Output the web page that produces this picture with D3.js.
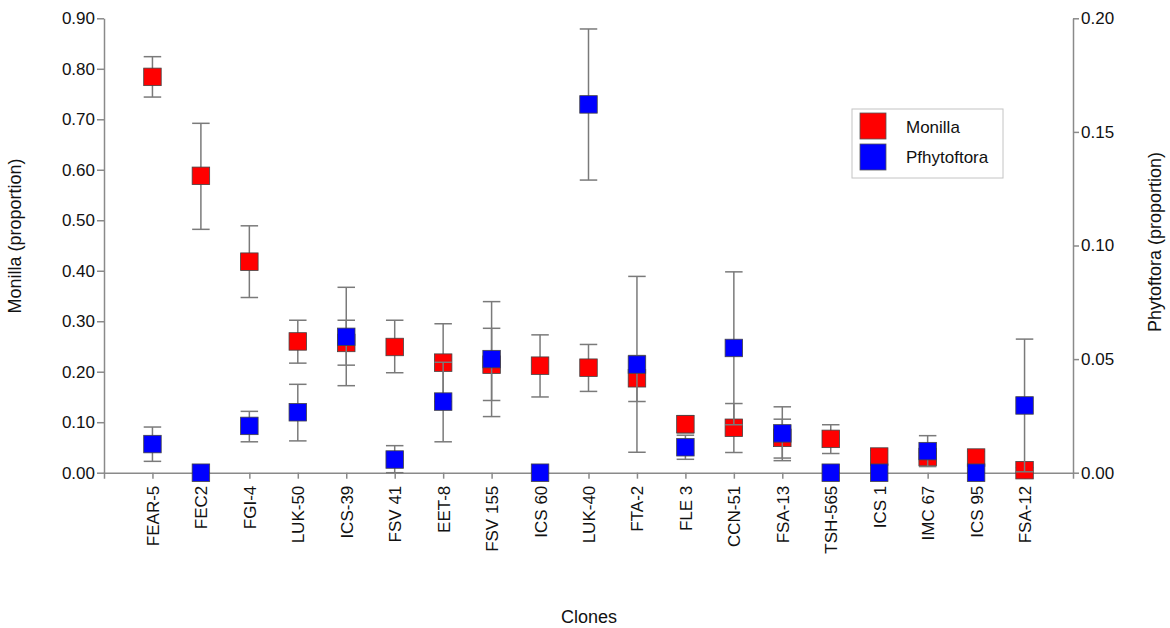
<html>
<head>
    <script src="https://d3js.org/d3.v7.min.js"></script>
    <style>
        body { margin: 0; background: #fff; }
        text { font-family: "Liberation Sans", Arial, sans-serif; fill: #111; }
    </style>
</head>
<body>
<div id="cont"></div>
<script>
    // clones on the x axis
    var clones = ["FEAR-5", "FEC2", "FGI-4", "LUK-50", "ICS-39", "FSV 41", "EET-8", "FSV 155", "ICS 60",
        "LUK-40", "FTA-2", "FLE 3", "CCN-51", "FSA-13", "TSH-565", "ICS 1", "IMC 67", "ICS 95", "FSA-12"];

    // Monilla (left axis): mean, lower, upper
    var monilla    = [0.784, 0.588, 0.418, 0.260, 0.257, 0.249, 0.218, 0.214, 0.212, 0.208, 0.187, 0.096, 0.089, 0.069, 0.067, 0.032, 0.031, 0.030, 0.005];
    var monillaLo  = [0.744, 0.482, 0.347, 0.217, 0.213, 0.198, 0.141, 0.143, 0.150, 0.161, 0.141, 0.079, 0.040, 0.029, 0.038, 0.020, 0.022, 0.018, 0.000];
    var monillaHi  = [0.824, 0.692, 0.489, 0.302, 0.302, 0.302, 0.295, 0.286, 0.273, 0.254, 0.232, 0.113, 0.137, 0.106, 0.095, 0.044, 0.040, 0.042, 0.010];

    // Phytoftora (right axis): mean, lower, upper
    var phyto      = [0.0126, 0.0, 0.0206, 0.0266, 0.0598, 0.0058, 0.0313, 0.0500, 0.0, 0.1621, 0.0476, 0.0112, 0.0549, 0.0173, 0.0, 0.0, 0.0095, 0.0, 0.0296];
    var phytoLo    = [0.0050, 0.0, 0.0136, 0.0140, 0.0383, 0.0000, 0.0136, 0.0247, 0.0, 0.1288, 0.0090, 0.0059, 0.0211, 0.0053, 0.0, 0.0, 0.0027, 0.0, 0.0004];
    var phytoHi    = [0.0201, 0.0, 0.0270, 0.0389, 0.0816, 0.0119, 0.0486, 0.0753, 0.0, 0.1953, 0.0864, 0.0165, 0.0884, 0.0290, 0.0, 0.0, 0.0163, 0.0, 0.0588];

    var leftTicks = [0, 0.1, 0.2, 0.3, 0.4, 0.5, 0.6, 0.7, 0.8, 0.9];
    var rightTicks = [0, 0.05, 0.1, 0.15, 0.2];

    var W = 1170, H = 628;
    var sq = 17.5;
    var axisCol = "#8a8a8a", errCol = "#7a7a7a";

    var svg = d3.select("#cont").append("svg")
        .attr("width", W)
        .attr("height", H);

    var x = d3.scalePoint().domain(clones).range([104, 1073]).padding(1);
    var yL = d3.scaleLinear().domain([0, 0.9]).range([472.7, 18.3]);
    var yR = d3.scaleLinear().domain([0, 0.2]).range([472.7, 18.3]);

    var fmt = d3.format(".2f");

    // axes
    var gx = svg.append("g")
        .attr("transform", "translate(0," + yL(0) + ")")
        .call(d3.axisBottom(x).tickSize(6).tickSizeOuter(6));
    gx.selectAll("text")
        .attr("transform", "rotate(-90)")
        .attr("x", -13)
        .attr("y", 0)
        .attr("dy", "0.35em")
        .style("text-anchor", "end")
        .style("font-size", "17px");

    var gl = svg.append("g")
        .attr("transform", "translate(" + x.range()[0] + ",0)")
        .call(d3.axisLeft(yL).tickValues(leftTicks).tickFormat(fmt).tickSize(7).tickPadding(2).tickSizeOuter(0));
    gl.selectAll("text").style("font-size", "17px");

    var gr = svg.append("g")
        .attr("transform", "translate(" + x.range()[1] + ",0)")
        .call(d3.axisRight(yR).tickValues(rightTicks).tickFormat(fmt).tickSize(6).tickPadding(2).tickSizeOuter(0));
    gr.selectAll("text").style("font-size", "17px");

    svg.selectAll(".domain, .tick line")
        .attr("stroke", axisCol)
        .attr("stroke-width", 1.5);
    svg.selectAll(".tick text").attr("fill", "#111");

    // axis titles
    svg.append("text")
        .attr("transform", "translate(21,236) rotate(-90)")
        .attr("text-anchor", "middle")
        .style("font-size", "18px")
        .text("Monilla (proportion)");
    svg.append("text")
        .attr("transform", "translate(1161,242) rotate(-90)")
        .attr("text-anchor", "middle")
        .style("font-size", "18px")
        .text("Phytoftora (proportion)");
    svg.append("text")
        .attr("x", 589)
        .attr("y", 623)
        .attr("text-anchor", "middle")
        .style("font-size", "18px")
        .text("Clones");

    // error bars + squares for one series
    var drawSeries = function (mean, lo, hi, y, col) {
        var rows = clones.map(function (c, i) {
            return {c: c, m: mean[i], lo: lo[i], hi: hi[i]};
        });
        var eb = svg.append("g").selectAll("g").data(rows).enter().append("g")
            .attr("stroke", errCol)
            .attr("stroke-width", 1.5);
        eb.append("line")
            .attr("x1", function (d) { return x(d.c); })
            .attr("x2", function (d) { return x(d.c); })
            .attr("y1", function (d) { return y(d.lo); })
            .attr("y2", function (d) { return y(d.hi); });
        eb.append("line")
            .attr("x1", function (d) { return x(d.c) - sq / 2; })
            .attr("x2", function (d) { return x(d.c) + sq / 2; })
            .attr("y1", function (d) { return y(d.hi); })
            .attr("y2", function (d) { return y(d.hi); });
        eb.append("line")
            .attr("x1", function (d) { return x(d.c) - sq / 2; })
            .attr("x2", function (d) { return x(d.c) + sq / 2; })
            .attr("y1", function (d) { return y(d.lo); })
            .attr("y2", function (d) { return y(d.lo); });

        svg.append("g").selectAll("rect").data(rows).enter().append("rect")
            .attr("x", function (d) { return x(d.c) - sq / 2; })
            .attr("y", function (d) { return y(d.m) - sq / 2; })
            .attr("width", sq)
            .attr("height", sq)
            .attr("fill", col)
            .attr("stroke", "#444")
            .attr("stroke-width", 0.8);
    };

    drawSeries(monilla, monillaLo, monillaHi, yL, "#ff0000");
    drawSeries(phyto, phytoLo, phytoHi, yR, "#0000ff");

    // legend
    var lg = svg.append("g");
    lg.append("rect")
        .attr("x", 852).attr("y", 109)
        .attr("width", 151).attr("height", 69)
        .attr("fill", "#fff")
        .attr("stroke", "#c4c4c4")
        .attr("stroke-width", 1);
    [["Monilla", "#ff0000"], ["Pfhytoftora", "#0000ff"]].forEach(function (it, i) {
        lg.append("rect")
            .attr("x", 860).attr("y", 113 + i * 31)
            .attr("width", 26).attr("height", 26)
            .attr("fill", it[1])
            .attr("stroke", "#555")
            .attr("stroke-width", 0.8);
        lg.append("text")
            .attr("x", 906).attr("y", 133 + i * 30)
            .style("font-size", "17px")
            .text(it[0]);
    });
</script>
</body>
</html>
